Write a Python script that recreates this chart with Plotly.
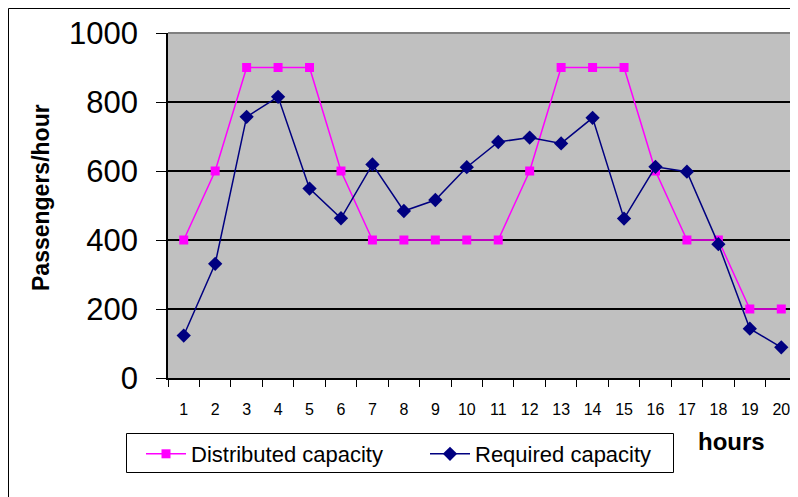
import plotly.graph_objects as go

hours = list(range(1, 21))
distributed = [400, 600, 900, 900, 900, 600, 400, 400, 400, 400,
               400, 600, 900, 900, 900, 600, 400, 400, 200, 200]
required = [123, 331, 757, 815, 549, 463, 619, 484, 516, 611,
            684, 697, 680, 754, 462, 612, 598, 388, 143, 89]
y_ticks = [0, 200, 400, 600, 800, 1000]

# the page body has an 8px margin, so the figure is offset by (8, 8)
OFF = 8
W, H = 798 - OFF, 497 - OFF
L, R, T = 168 - OFF, 1, 33 - OFF
pw = W - L - R
ph = 378 - 33
B = H - T - ph

def px(x):  # screen x -> paper
    return (x - OFF - L) / pw

def py(y):  # screen y -> paper
    return 1 - (y - OFF - T) / ph

FONT = "Arial, Liberation Sans, sans-serif"

fig = go.Figure()
fig.add_trace(go.Scatter(
    x=hours, y=distributed, name="Distributed capacity", mode="lines+markers",
    line=dict(color="#FF00FF", width=1.5),
    marker=dict(symbol="square", size=9, color="#FF00FF"),
))
fig.add_trace(go.Scatter(
    x=hours, y=required, name="Required capacity", mode="lines+markers",
    line=dict(color="#000080", width=1.5),
    marker=dict(symbol="diamond", size=11, color="#000080"),
))

fig.update_layout(
    width=W, height=H,
    margin=dict(l=L, r=R, t=T, b=B),
    paper_bgcolor="white", plot_bgcolor="#C0C0C0",
    font=dict(family=FONT, color="black"),
    showlegend=True,
    legend=dict(
        orientation="h", x=px(141), y=py(433), xanchor="left", yanchor="top",
        bgcolor="rgba(0,0,0,0)", borderwidth=0,
        font=dict(size=22, family=FONT), entrywidth=229, entrywidthmode="pixels",
        itemwidth=40, tracegroupgap=0,
    ),
    xaxis=dict(
        range=[0.5, 20.5], tickmode="array", tickvals=hours,
        ticktext=[str(h) for h in hours], ticks="", showgrid=False,
        zeroline=False, showline=True, linecolor="black", linewidth=1.5,
        tickfont=dict(size=16, family=FONT), ticklabelstandoff=16,
        minor=dict(ticks="outside", ticklen=7, tickcolor="black", tickwidth=1,
                   tick0=0.5, dtick=1, showgrid=False),
        fixedrange=True,
    ),
    yaxis=dict(
        range=[0, 1000], tickvals=y_ticks, ticks="outside", ticklen=10,
        tickcolor="black", tickwidth=1,
        showgrid=True, gridcolor="black", gridwidth=1.5,
        zeroline=False, showline=True, linecolor="black", linewidth=1.5,
        tickfont=dict(size=31, family=FONT), ticklabelstandoff=12,
        fixedrange=True,
    ),
    shapes=[
        dict(type="line", xref="paper", yref="paper", x0=0, x1=1, y0=1, y1=1,
             line=dict(color="#808080", width=2), layer="above"),
        dict(type="line", xref="paper", yref="paper", x0=1, x1=1, y0=0, y1=1,
             line=dict(color="#808080", width=2), layer="above"),
        dict(type="line", xref="paper", yref="paper",
             x0=px(8.5), x1=px(8.5), y0=py(8.5), y1=py(520),
             line=dict(color="black", width=1), layer="above"),
        dict(type="line", xref="paper", yref="paper",
             x0=px(8.5), x1=px(820), y0=py(8.5), y1=py(8.5),
             line=dict(color="black", width=1), layer="above"),
        # legend box
        dict(type="rect", xref="paper", yref="paper",
             x0=px(126.5), x1=px(673.5), y0=py(433.5), y1=py(472.5),
             line=dict(color="black", width=1), fillcolor="white", layer="above"),
    ],
    annotations=[
        dict(text="<b>Passengers/hour</b>", xref="paper", yref="paper",
             x=px(41), y=py(198), xanchor="center", yanchor="middle",
             textangle=-90, showarrow=False, font=dict(size=23, family=FONT)),
        dict(text="<b>hours</b>", xref="paper", yref="paper",
             x=px(731), y=py(442), xanchor="center", yanchor="middle",
             showarrow=False, font=dict(size=24, family=FONT)),
    ],
)

fig.write_html("out.html")
